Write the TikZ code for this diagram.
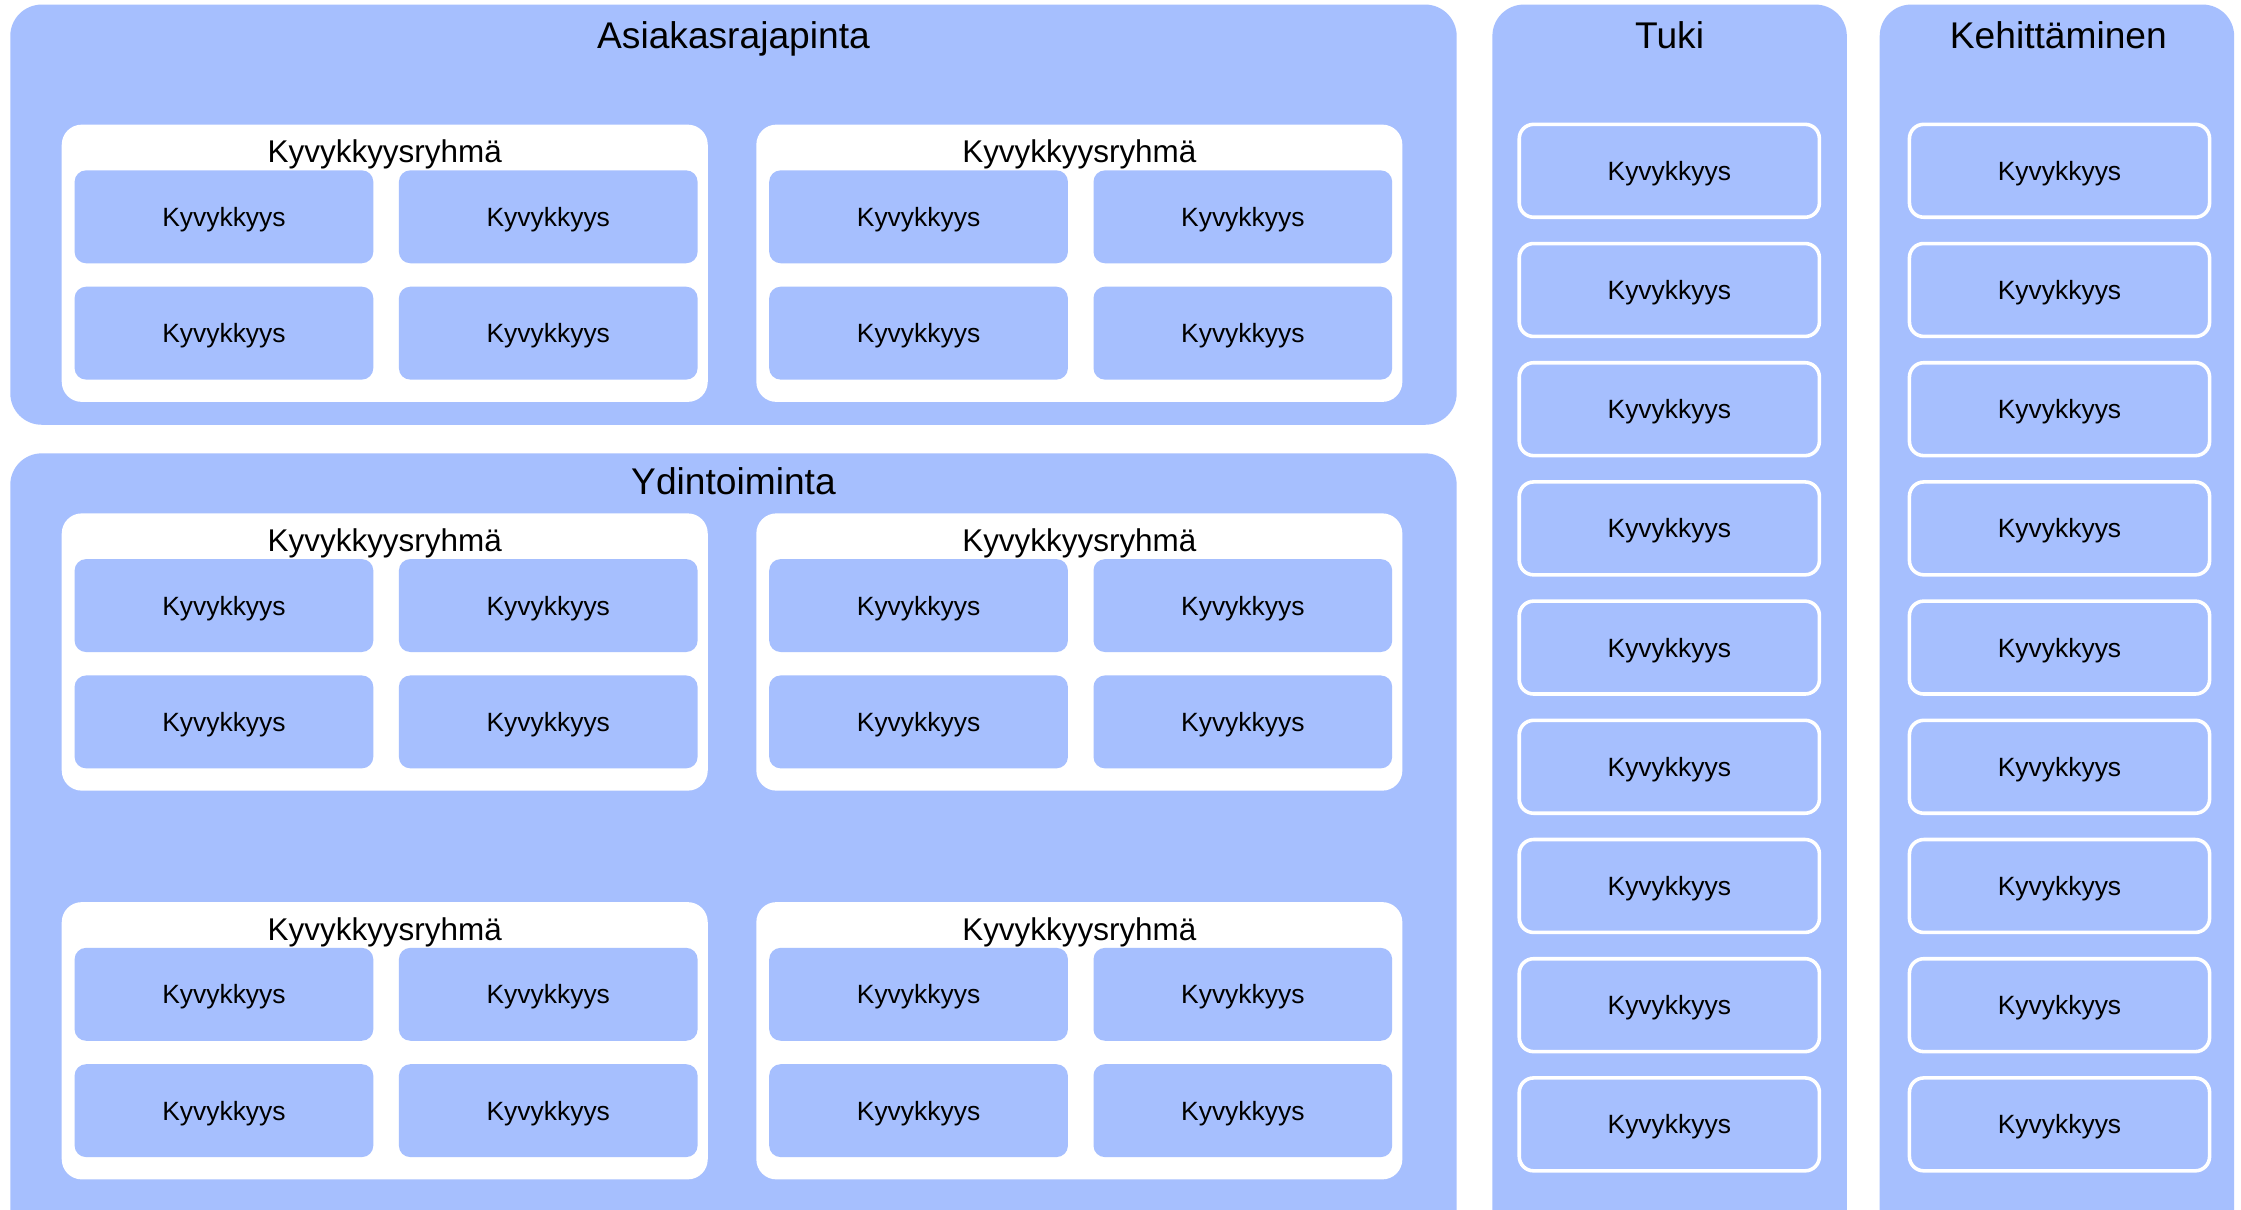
\documentclass[tikz,border=0pt]{standalone}
\usepackage{fontspec}
\setmainfont{Liberation Sans}
\usetikzlibrary{calc}
\usetikzlibrary{positioning}
\definecolor{capblue}{RGB}{166,191,254}
\tikzset{
  panel/.style={fill=capblue, rounded corners=22pt, anchor=north west, inner sep=0pt},
  paneltitle/.style={anchor=base, font=\fontsize{26}{30}\selectfont},
  group/.style={fill=white, rounded corners=14pt, minimum width=452pt, minimum height=194pt, anchor=north west, inner sep=0pt},
  grouptitle/.style={anchor=base, font=\fontsize{22}{26}\selectfont},
  capbox/.style={fill=capblue, rounded corners=8pt, minimum width=209pt, minimum height=65pt, inner sep=0pt, text depth=0pt, font=\fontsize{18.5}{22}\selectfont},
  sidecapbox/.style={capbox, draw=white, line width=2.5pt, minimum width=210pt, minimum height=65pt, rounded corners=10pt}
}
\newcommand{\capGroup}[3]{
  \node [group] (#1) at (#2,#3) {};
  \node [grouptitle] (#1-title) at ($(#1.north)+(0,27)$) {Kyvykkyysryhmä};
  \node [capbox, anchor=north west] (#1-a) at ($(#1.north west)+(9,32)$) {Kyvykkyys};
  \node [capbox, right=17.5pt of #1-a] (#1-b) {Kyvykkyys};
  \node [capbox, below=16pt of #1-a] (#1-c) {Kyvykkyys};
  \node [capbox, right=17.5pt of #1-c] (#1-d) {Kyvykkyys};
}
\begin{document}
\begin{tikzpicture}[x=1pt, y=-1pt]
  \useasboundingbox (0,0) rectangle (1568,846);
  \fill [white] (0,0) rectangle (1568,846);
  \clip (0,0) rectangle (1568,846);

  % panels
  \node [panel, minimum width=1012pt, minimum height=294pt] (asiakas) at (7,3) {};
  \node [panel, minimum width=1012pt, minimum height=600pt] (ydin) at (7,317) {};
  \node [panel, minimum width=248pt, minimum height=900pt] (tuki) at (1044,3) {};
  \node [panel, minimum width=248pt, minimum height=900pt] (kehitys) at (1315,3) {};

  \node [paneltitle] (asiakas-title) at ($(asiakas.north)+(0,31)$) {Asiakasrajapinta};
  \node [paneltitle] (ydin-title) at ($(ydin.north)+(0,29)$) {Ydintoiminta};
  \node [paneltitle] (tuki-title) at ($(tuki.north)+(0,31)$) {Tuki};
  \node [paneltitle] (kehitys-title) at ($(kehitys.north)+(1,31)$) {Kehittäminen};

  % capability groups
  \capGroup{asiakas1}{43}{87}
  \capGroup{asiakas2}{529}{87}
  \capGroup{ydin1}{43}{359}
  \capGroup{ydin2}{529}{359}
  \capGroup{ydin3}{43}{631}
  \capGroup{ydin4}{529}{631}

  % side columns
  \foreach \i in {0,...,8} {
    \node [sidecapbox] (tuki-\i) at (1168,{119.5+83.4*\i}) {Kyvykkyys};
    \node [sidecapbox] (kehitys-\i) at (1441,{119.5+83.4*\i}) {Kyvykkyys};
  }
\end{tikzpicture}
\end{document}
